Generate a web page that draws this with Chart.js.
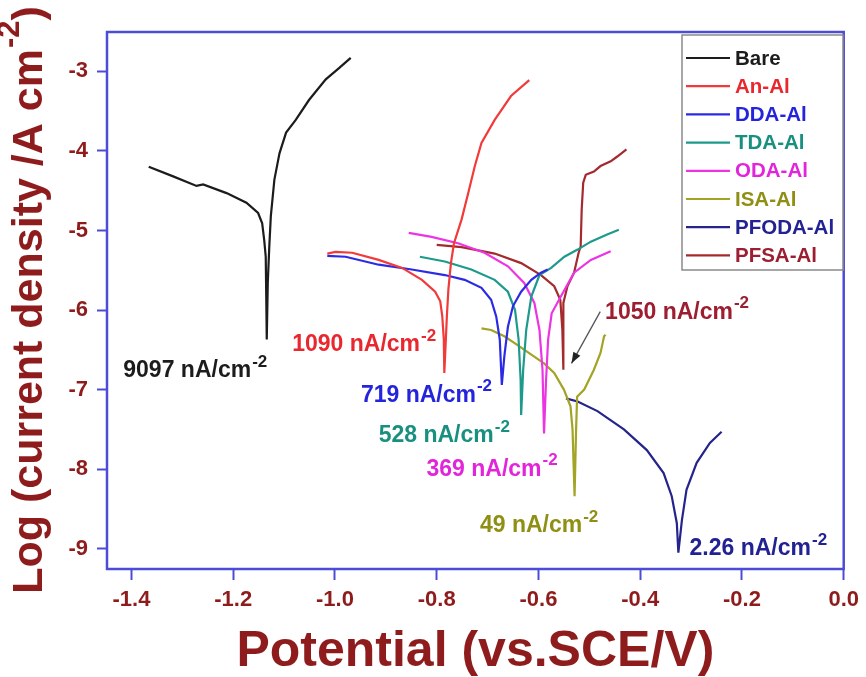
<!DOCTYPE html>
<html>
<head>
<meta charset="utf-8">
<script src="https://cdn.jsdelivr.net/npm/chart.js@4.4.1/dist/chart.umd.min.js"></script>
<style>
  html, body { margin: 0; padding: 0; background: #fff; }
  #wrap { width: 866px; height: 677px; position: relative; }
</style>
</head>
<body>
<div id="wrap"><canvas id="tafel"></canvas></div>
<script>
// Tafel polarization curves, each point is [E (V vs SCE), log i (A cm-2)]
const seriesNames = ['Bare', 'An-Al', 'DDA-Al', 'TDA-Al', 'ODA-Al', 'ISA-Al', 'PFODA-Al', 'PFSA-Al'];

const bare = [
  [-1.366, -4.20], [-1.318, -4.32], [-1.272, -4.44], [-1.259, -4.42], [-1.213, -4.53],
  [-1.174, -4.65], [-1.151, -4.78], [-1.143, -4.91], [-1.139, -5.12], [-1.136, -5.33],
  [-1.135, -5.83], [-1.134, -6.37], [-1.132, -5.66], [-1.129, -5.20], [-1.126, -4.82],
  [-1.119, -4.36], [-1.109, -4.03], [-1.096, -3.77], [-1.077, -3.61], [-1.051, -3.36],
  [-1.018, -3.10], [-0.992, -2.96], [-0.969, -2.83]
];
const anAl = [
  [-1.015, -5.29], [-0.999, -5.27], [-0.966, -5.28], [-0.914, -5.37], [-0.868, -5.47],
  [-0.829, -5.62], [-0.803, -5.77], [-0.793, -5.89], [-0.789, -6.08], [-0.786, -6.37],
  [-0.785, -6.79], [-0.782, -6.37], [-0.780, -6.08], [-0.777, -5.74], [-0.772, -5.41],
  [-0.766, -5.16], [-0.751, -4.86], [-0.738, -4.53], [-0.725, -4.19], [-0.712, -3.90],
  [-0.686, -3.61], [-0.654, -3.31], [-0.618, -3.11]
];
const ddaAl = [
  [-1.015, -5.32], [-0.979, -5.33], [-0.914, -5.43], [-0.849, -5.49], [-0.784, -5.56],
  [-0.745, -5.62], [-0.712, -5.72], [-0.693, -5.87], [-0.683, -6.08], [-0.676, -6.37],
  [-0.672, -6.94], [-0.667, -6.58], [-0.660, -6.21], [-0.650, -5.95], [-0.634, -5.77],
  [-0.614, -5.62], [-0.595, -5.53], [-0.582, -5.49]
];
const tdaAl = [
  [-0.833, -5.33], [-0.784, -5.39], [-0.732, -5.49], [-0.686, -5.62], [-0.660, -5.77],
  [-0.646, -6.00], [-0.639, -6.37], [-0.635, -6.88], [-0.634, -7.32], [-0.630, -6.75],
  [-0.624, -6.25], [-0.614, -5.83], [-0.598, -5.56], [-0.575, -5.47], [-0.549, -5.33],
  [-0.523, -5.24], [-0.497, -5.14], [-0.465, -5.05], [-0.442, -4.99]
];
const odaAl = [
  [-0.855, -5.03], [-0.810, -5.08], [-0.758, -5.16], [-0.706, -5.28], [-0.660, -5.45],
  [-0.628, -5.66], [-0.608, -5.91], [-0.598, -6.25], [-0.592, -6.75], [-0.589, -7.55],
  [-0.585, -6.88], [-0.581, -6.37], [-0.574, -6.04], [-0.556, -5.83], [-0.530, -5.53],
  [-0.497, -5.37], [-0.458, -5.26]
];
const isaAl = [
  [-0.712, -6.23], [-0.693, -6.25], [-0.667, -6.33], [-0.641, -6.44], [-0.614, -6.56],
  [-0.589, -6.67], [-0.569, -6.79], [-0.550, -7.00], [-0.537, -7.21], [-0.533, -7.50],
  [-0.531, -7.92], [-0.529, -8.34], [-0.526, -7.50], [-0.524, -7.09], [-0.510, -7.00],
  [-0.491, -6.75], [-0.478, -6.54], [-0.471, -6.33], [-0.468, -6.31]
];
const pfodaAl = [
  [-0.546, -7.11], [-0.523, -7.15], [-0.484, -7.27], [-0.432, -7.50], [-0.387, -7.76],
  [-0.354, -8.05], [-0.338, -8.34], [-0.328, -8.68], [-0.325, -9.05], [-0.318, -8.64],
  [-0.309, -8.26], [-0.289, -7.92], [-0.263, -7.67], [-0.240, -7.53]
];
const pfsaAl = [
  [-0.800, -5.18], [-0.751, -5.21], [-0.686, -5.29], [-0.634, -5.41], [-0.595, -5.56],
  [-0.569, -5.70], [-0.557, -5.87], [-0.553, -6.25], [-0.551, -6.75], [-0.551, -6.37],
  [-0.551, -5.91], [-0.543, -5.70], [-0.530, -5.53], [-0.521, -5.28], [-0.517, -5.20],
  [-0.515, -4.74], [-0.512, -4.40], [-0.507, -4.30], [-0.491, -4.26], [-0.478, -4.19],
  [-0.458, -4.13], [-0.445, -4.07], [-0.427, -3.98]
];

// corrosion current density labels, same order as seriesNames
const icorrValues = ['9097', '1090', '719', '528', '369', '49', '2.26', '1050'];

const xTicks = [-1.4, -1.2, -1.0, -0.8, -0.6, -0.4, -0.2, 0.0];
const yTicks = [-9, -8, -7, -6, -5, -4, -3];

// ---- styling ----
const FAM = '"Liberation Sans", Arial, sans-serif';
const lineColors = ['#1c1c1c', '#f23a3a', '#2b2be6', '#1d9a8c', '#ec34e2', '#a3a326', '#24248c', '#a42a2e'];
const textColors = ['#1c1c1c', '#e8282e', '#2424dc', '#18907f', '#e224da', '#8f8f14', '#222292', '#9c1e30'];
const frameBlue = '#4c4cd6';
const axisRed = '#8f1c1c';

// where each icorr label sits: [E, log i] of its left end / baseline
const labelAnchors = [
  [-1.416, -6.84], [-1.084, -6.52], [-0.949, -7.15], [-0.914, -7.66],
  [-0.820, -8.08], [-0.715, -8.79], [-0.303, -9.08], [-0.469, -6.11]
];

const datasets = [bare, anAl, ddaAl, tdaAl, odaAl, isaAl, pfodaAl, pfsaAl].map((pts, i) => ({
  label: seriesNames[i],
  data: pts.map(p => ({ x: p[0], y: p[1] })),
  borderColor: lineColors[i],
  backgroundColor: lineColors[i],
  borderWidth: 2.2,
  showLine: true,
  pointRadius: 0,
  tension: 0
}));

function supText(ctx, base, sup, x, y, size, color, tail) {
  ctx.fillStyle = color;
  ctx.textAlign = 'left';
  ctx.font = 'bold ' + size + 'px ' + FAM;
  ctx.fillText(base, x, y);
  let w = ctx.measureText(base).width;
  ctx.font = 'bold ' + Math.round(size * 0.72) + 'px ' + FAM;
  ctx.fillText(sup, x + w + 1, y - size * 0.45);
  w += ctx.measureText(sup).width + 1;
  if (tail) {
    ctx.font = 'bold ' + size + 'px ' + FAM;
    ctx.fillText(tail, x + w, y);
    w += ctx.measureText(tail).width;
  }
  return w;
}

function measureSup(ctx, base, sup, size, tail) {
  ctx.font = 'bold ' + size + 'px ' + FAM;
  let w = ctx.measureText(base).width + (tail ? ctx.measureText(tail).width : 0);
  ctx.font = 'bold ' + Math.round(size * 0.72) + 'px ' + FAM;
  return w + ctx.measureText(sup).width + 1;
}

const decor = {
  id: 'decor',
  afterDraw(chart) {
    const { ctx, chartArea: a, scales: { x, y } } = chart;
    ctx.save();

    // plot frame
    ctx.strokeStyle = frameBlue;
    ctx.lineWidth = 2.5;
    ctx.strokeRect(a.left, a.top, a.right - a.left, a.bottom - a.top);

    // icorr labels
    ctx.textBaseline = 'alphabetic';
    labelAnchors.forEach((p, i) => {
      supText(ctx, icorrValues[i] + ' nA/cm', '-2', x.getPixelForValue(p[0]), y.getPixelForValue(p[1]), 23, textColors[i]);
    });

    // arrow pointing at PFSA-Al minimum
    const ax1 = x.getPixelForValue(-0.4785), ay1 = y.getPixelForValue(-6.02);
    const ax2 = x.getPixelForValue(-0.535), ay2 = y.getPixelForValue(-6.67);
    ctx.strokeStyle = '#555';
    ctx.lineWidth = 1.3;
    ctx.beginPath(); ctx.moveTo(ax1, ay1); ctx.lineTo(ax2, ay2); ctx.stroke();
    const ang = Math.atan2(ay2 - ay1, ax2 - ax1);
    ctx.fillStyle = '#222';
    ctx.beginPath();
    ctx.moveTo(ax2, ay2);
    ctx.lineTo(ax2 - 11 * Math.cos(ang) + 4 * Math.sin(ang), ay2 - 11 * Math.sin(ang) - 4 * Math.cos(ang));
    ctx.lineTo(ax2 - 11 * Math.cos(ang) - 4 * Math.sin(ang), ay2 - 11 * Math.sin(ang) + 4 * Math.cos(ang));
    ctx.closePath(); ctx.fill();

    // legend box
    const lx = 682, ly = 35, lw = 161, lh = 235;
    ctx.fillStyle = '#fff';
    ctx.fillRect(lx, ly, lw, lh);
    ctx.strokeStyle = '#8a8a8a';
    ctx.lineWidth = 1.5;
    ctx.strokeRect(lx, ly, lw, lh);
    ctx.textBaseline = 'middle';
    seriesNames.forEach((name, i) => {
      const ry = 58 + i * 28.2;
      ctx.strokeStyle = lineColors[i];
      ctx.lineWidth = 2.2;
      ctx.beginPath(); ctx.moveTo(686, ry); ctx.lineTo(730, ry); ctx.stroke();
      ctx.fillStyle = textColors[i];
      ctx.font = 'bold 20.5px ' + FAM;
      ctx.textAlign = 'left';
      ctx.fillText(name, 735, ry + 1);
    });

    // axis titles
    ctx.textBaseline = 'middle';
    ctx.font = 'bold 50px ' + FAM;
    ctx.fillStyle = axisRed;
    ctx.textAlign = 'center';
    ctx.fillText('Potential (vs.SCE/V)', (a.left + a.right) / 2, 652);

    ctx.translate(30, 300);
    ctx.rotate(-Math.PI / 2);
    const tw = measureSup(ctx, 'Log (current density /A cm', '-2', 43, ')');
    supText(ctx, 'Log (current density /A cm', '-2', -tw / 2, 0, 43, axisRed, ')');

    ctx.restore();
  }
};

new Chart(document.getElementById('tafel'), {
  type: 'scatter',
  data: { datasets },
  options: {
    responsive: true,
    maintainAspectRatio: false,
    animation: false,
    layout: { padding: { top: 32, right: 18, left: 0, bottom: 0 } },
    plugins: { legend: { display: false }, tooltip: { enabled: false } },
    scales: {
      x: {
        type: 'linear',
        min: -1.448,
        max: 0,
        afterFit: s => { s.height = 108; },
        afterBuildTicks: s => { s.ticks = xTicks.map(v => ({ value: v })); },
        border: { display: false },
        grid: { drawOnChartArea: false, drawTicks: true, tickLength: 11, tickWidth: 2, tickColor: frameBlue },
        ticks: {
          padding: 7,
          color: axisRed,
          font: { family: FAM, size: 22, weight: 'bold' },
          callback: v => (Math.abs(v) < 1e-9 ? 0 : v).toFixed(1)
        }
      },
      y: {
        type: 'linear',
        min: -9.255,
        max: -2.505,
        afterFit: s => { s.width = 107; },
        afterBuildTicks: s => { s.ticks = yTicks.map(v => ({ value: v })); },
        border: { display: false },
        grid: { drawOnChartArea: false, drawTicks: true, tickLength: 10, tickWidth: 2, tickColor: frameBlue },
        ticks: {
          padding: 9,
          color: axisRed,
          font: { family: FAM, size: 22, weight: 'bold' },
          callback: v => String(v)
        }
      }
    }
  },
  plugins: [decor]
});
</script>
</body>
</html>
